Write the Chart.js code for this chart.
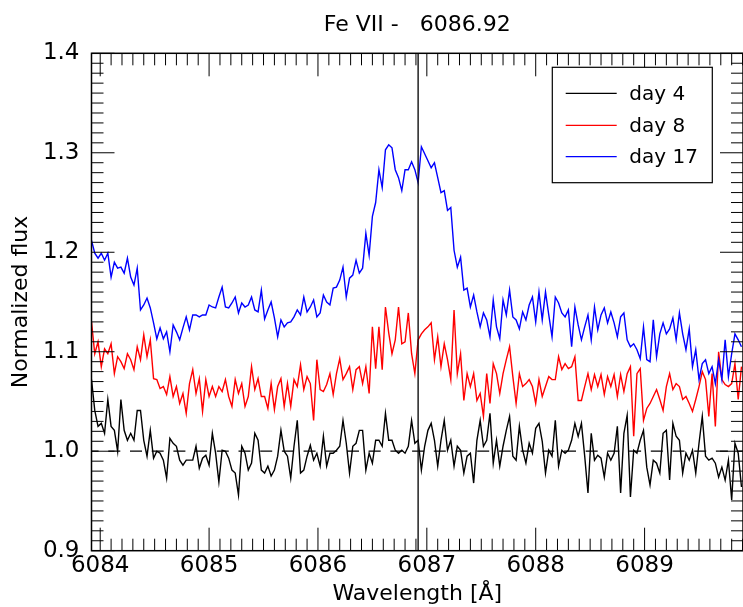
<!DOCTYPE html>
<html>
<head>
<meta charset="utf-8">
<script src="https://cdn.jsdelivr.net/npm/chart.js@4"></script>
<style>
  html, body { margin: 0; padding: 0; background: #fff; overflow: hidden; }
  canvas { display: block; }
</style>
</head>
<body>
<canvas id="chart" width="743" height="607"></canvas>
<script>
// wavelength grid (Angstrom)
const wavelength = [
  6083.92, 6083.95, 6083.98, 6084.01, 6084.04, 6084.07, 6084.10, 6084.13, 6084.16, 6084.19,
  6084.22, 6084.25, 6084.28, 6084.31, 6084.34, 6084.37, 6084.40, 6084.43, 6084.46, 6084.49,
  6084.52, 6084.55, 6084.58, 6084.61, 6084.64, 6084.67, 6084.70, 6084.73, 6084.76, 6084.79,
  6084.82, 6084.85, 6084.88, 6084.91, 6084.94, 6084.97, 6085.00, 6085.03, 6085.06, 6085.09,
  6085.12, 6085.15, 6085.18, 6085.21, 6085.24, 6085.27, 6085.30, 6085.33, 6085.36, 6085.39,
  6085.42, 6085.45, 6085.48, 6085.51, 6085.54, 6085.57, 6085.60, 6085.63, 6085.66, 6085.69,
  6085.72, 6085.75, 6085.78, 6085.81, 6085.84, 6085.87, 6085.90, 6085.93, 6085.96, 6085.99,
  6086.02, 6086.05, 6086.08, 6086.11, 6086.14, 6086.17, 6086.20, 6086.23, 6086.26, 6086.29,
  6086.32, 6086.35, 6086.38, 6086.41, 6086.44, 6086.47, 6086.50, 6086.53, 6086.56, 6086.59,
  6086.62, 6086.65, 6086.68, 6086.71, 6086.74, 6086.77, 6086.80, 6086.83, 6086.86, 6086.89,
  6086.92, 6086.95, 6086.98, 6087.01, 6087.04, 6087.07, 6087.10, 6087.13, 6087.16, 6087.19,
  6087.22, 6087.25, 6087.28, 6087.31, 6087.34, 6087.37, 6087.40, 6087.43, 6087.46, 6087.49,
  6087.52, 6087.55, 6087.58, 6087.61, 6087.64, 6087.67, 6087.70, 6087.73, 6087.76, 6087.79,
  6087.82, 6087.85, 6087.88, 6087.91, 6087.94, 6087.97, 6088.00, 6088.03, 6088.06, 6088.09,
  6088.12, 6088.15, 6088.18, 6088.21, 6088.24, 6088.27, 6088.30, 6088.33, 6088.36, 6088.39,
  6088.42, 6088.45, 6088.48, 6088.51, 6088.54, 6088.57, 6088.60, 6088.63, 6088.66, 6088.69,
  6088.72, 6088.75, 6088.78, 6088.81, 6088.84, 6088.87, 6088.90, 6088.93, 6088.96, 6088.99,
  6089.02, 6089.05, 6089.08, 6089.11, 6089.14, 6089.17, 6089.20, 6089.23, 6089.26, 6089.29,
  6089.32, 6089.35, 6089.38, 6089.41, 6089.44, 6089.47, 6089.50, 6089.53, 6089.56, 6089.59,
  6089.62, 6089.65, 6089.68, 6089.71, 6089.74, 6089.77, 6089.80, 6089.83, 6089.86, 6089.89
]

const fluxDay4 = [
  1.072, 1.041, 1.025, 1.028, 1.018, 1.052, 1.025, 1.021, 1.000, 1.052,
  1.021, 1.011, 1.018, 1.011, 1.041, 1.041, 1.011, 0.995, 1.021, 0.993,
  1.000, 0.998, 0.991, 0.973, 1.013, 1.008, 1.005, 0.991, 0.986, 0.991,
  0.991, 0.991, 1.005, 0.983, 0.993, 0.996, 0.986, 1.018, 0.998, 0.969,
  1.001, 1.000, 0.993, 0.981, 0.978, 0.956, 1.005, 0.998, 0.981, 0.988,
  1.018, 1.011, 0.981, 0.978, 0.985, 0.975, 0.981, 0.995, 1.021, 1.000,
  0.995, 0.973, 1.005, 1.031, 0.978, 0.981, 0.995, 1.006, 0.991, 0.998,
  0.985, 1.015, 0.985, 0.998, 0.998, 1.001, 1.005, 1.031, 1.008, 0.978,
  1.005, 1.008, 1.021, 1.021, 0.981, 0.998, 0.988, 1.011, 1.011, 1.005,
  1.038, 1.011, 1.011, 1.001, 0.998, 1.001, 0.998, 1.005, 1.031, 1.008,
  1.011, 0.981, 1.005, 1.021, 1.028, 1.011, 0.985, 1.011, 1.031, 1.001,
  1.011, 0.985, 1.005, 1.001, 0.978, 0.995, 0.998, 0.968, 1.011, 1.031,
  1.005, 1.011, 1.038, 0.988, 1.011, 0.985, 1.005, 1.021, 1.035, 0.995,
  0.991, 1.025, 1.001, 0.988, 1.008, 0.998, 1.023, 1.028, 1.010, 0.978,
  1.001, 0.995, 1.031, 0.985, 1.001, 0.998, 1.001, 1.011, 1.028, 1.015,
  1.028, 0.995, 0.958, 1.018, 0.991, 0.996, 0.993, 0.974, 0.998, 0.991,
  0.998, 1.025, 0.958, 1.018, 1.036, 0.954, 1.001, 0.998, 1.011, 1.021,
  0.984, 0.966, 0.991, 0.988, 0.978, 1.018, 1.021, 0.971, 1.028, 1.015,
  1.011, 0.978, 0.998, 0.991, 1.001, 0.978, 1.008, 1.035, 0.995, 0.991,
  0.993, 0.988, 0.974, 0.984, 0.971, 0.991, 0.951, 1.008, 0.998, 0.964
]

const fluxDay8 = [
  1.130, 1.098, 1.110, 1.085, 1.103, 1.098, 1.108, 1.078, 1.095, 1.090,
  1.083, 1.098, 1.092, 1.082, 1.105, 1.092, 1.117, 1.095, 1.112, 1.073,
  1.072, 1.063, 1.065, 1.057, 1.075, 1.055, 1.065, 1.048, 1.058, 1.038,
  1.068, 1.082, 1.058, 1.073, 1.040, 1.072, 1.055, 1.065, 1.055, 1.065,
  1.060, 1.072, 1.055, 1.045, 1.072, 1.058, 1.068, 1.045, 1.055, 1.085,
  1.062, 1.073, 1.055, 1.055, 1.043, 1.068, 1.042, 1.065, 1.073, 1.045,
  1.068, 1.045, 1.072, 1.065, 1.087, 1.062, 1.075, 1.068, 1.031, 1.092,
  1.062, 1.060, 1.067, 1.078, 1.057, 1.078, 1.093, 1.072, 1.078, 1.085,
  1.062, 1.082, 1.085, 1.068, 1.085, 1.058, 1.125, 1.083, 1.125, 1.082,
  1.145, 1.119, 1.098, 1.112, 1.145, 1.108, 1.110, 1.139, 1.098, 1.078,
  1.112, 1.118, 1.122, 1.125, 1.129, 1.092, 1.115, 1.085, 1.108, 1.092,
  1.072, 1.142, 1.078, 1.098, 1.051, 1.078, 1.065, 1.078, 1.051, 1.058,
  1.035, 1.078, 1.048, 1.088, 1.078, 1.058, 1.078, 1.092, 1.105, 1.075,
  1.048, 1.078, 1.065, 1.068, 1.072, 1.065, 1.048, 1.072, 1.055, 1.065,
  1.075, 1.072, 1.072, 1.095, 1.082, 1.088, 1.083, 1.085, 1.095, 1.051,
  1.051, 1.065, 1.078, 1.062, 1.077, 1.065, 1.077, 1.057, 1.075, 1.065,
  1.077, 1.055, 1.077, 1.060, 1.078, 1.085, 1.015, 1.078, 1.083, 1.031,
  1.043, 1.048, 1.055, 1.062, 1.052, 1.041, 1.065, 1.078, 1.062, 1.068,
  1.065, 1.052, 1.055, 1.048, 1.040, 1.052, 1.065, 1.080, 1.072, 1.035,
  1.078, 1.025, 1.100, 1.072, 1.067, 1.065, 1.068, 1.088, 1.052, 1.085
]

const fluxDay17 = [
  1.212, 1.199, 1.194, 1.199, 1.192, 1.199, 1.175, 1.190, 1.184, 1.185,
  1.179, 1.194, 1.175, 1.167, 1.184, 1.142, 1.147, 1.154, 1.144, 1.129,
  1.113, 1.124, 1.113, 1.120, 1.100, 1.127, 1.120, 1.112, 1.124, 1.135,
  1.122, 1.137, 1.137, 1.135, 1.137, 1.137, 1.147, 1.145, 1.144, 1.155,
  1.165, 1.145, 1.144, 1.149, 1.155, 1.139, 1.149, 1.145, 1.147, 1.155,
  1.142, 1.140, 1.162, 1.133, 1.142, 1.150, 1.134, 1.115, 1.132, 1.125,
  1.129, 1.130, 1.135, 1.142, 1.137, 1.155, 1.140, 1.145, 1.152, 1.135,
  1.139, 1.157, 1.150, 1.147, 1.164, 1.165, 1.172, 1.185, 1.155, 1.174,
  1.177, 1.192, 1.179, 1.184, 1.219, 1.197, 1.236, 1.250, 1.283, 1.265,
  1.303, 1.308, 1.305, 1.283, 1.275, 1.262, 1.283, 1.283, 1.291, 1.283,
  1.270, 1.306, 1.299, 1.292, 1.285, 1.290, 1.275, 1.260, 1.262, 1.242,
  1.245, 1.202, 1.185, 1.195, 1.162, 1.164, 1.145, 1.157, 1.140, 1.125,
  1.139, 1.132, 1.115, 1.152, 1.125, 1.113, 1.152, 1.137, 1.162, 1.135,
  1.132, 1.123, 1.140, 1.132, 1.147, 1.155, 1.130, 1.160, 1.132, 1.160,
  1.137, 1.115, 1.155, 1.149, 1.139, 1.135, 1.142, 1.105, 1.145, 1.127,
  1.112, 1.125, 1.137, 1.112, 1.145, 1.122, 1.137, 1.144, 1.129, 1.140,
  1.129, 1.115, 1.135, 1.139, 1.112, 1.105, 1.108, 1.102, 1.093, 1.125,
  1.092, 1.090, 1.132, 1.095, 1.118, 1.129, 1.118, 1.123, 1.134, 1.112,
  1.139, 1.118, 1.102, 1.123, 1.085, 1.102, 1.072, 1.088, 1.092, 1.078,
  1.085, 1.068, 1.092, 1.072, 1.112, 1.075, 1.098, 1.118, 1.112, 1.105
]

const seriesLabels = ['day 4', 'day 8', 'day 17']
const seriesColors = ['#000000', '#ff0000', '#0000ff']
const xTicks = [6084, 6085, 6086, 6087, 6088, 6089]
const yTicks = [0.9, 1.0, 1.1, 1.2, 1.3, 1.4]
const lineCenter = 6086.92
const continuum = 1.0
const titleText = 'Fe VII -   6086.92'

const FONT = 'DejaVu Sans'

function toPoints(flux) {
    return wavelength.map((w, i) => ({ x: w, y: flux[i] }))
}

// frame, inward ticks on all four sides, reference lines, legend, title
const idlFrame = {
    id: 'idlFrame',
    afterDatasetsDraw(chart) {
        const { ctx, chartArea: { left, right, top, bottom }, scales: { x, y } } = chart
        ctx.save()
        ctx.beginPath()
        ctx.rect(left, top, right - left, bottom - top)
        ctx.clip()
        ctx.strokeStyle = '#000'
        // dashed continuum
        ctx.lineWidth = 1.2
        ctx.setLineDash([12, 9.7])
        ctx.lineDashOffset = 4.9
        const yc = y.getPixelForValue(continuum)
        ctx.beginPath()
        ctx.moveTo(left, yc)
        ctx.lineTo(right, yc)
        ctx.stroke()
        ctx.setLineDash([])
        // rest wavelength
        const xl = x.getPixelForValue(lineCenter)
        ctx.strokeStyle = '#111'
        ctx.lineWidth = 1.4
        ctx.beginPath()
        ctx.moveTo(xl, top)
        ctx.lineTo(xl, bottom)
        ctx.stroke()
        ctx.restore()
    },
    afterDraw(chart) {
        const { ctx, chartArea: { left, right, top, bottom }, scales: { x, y } } = chart
        ctx.save()
        ctx.strokeStyle = '#000'
        ctx.lineWidth = 1.5
        ctx.strokeRect(left, top, right - left, bottom - top)

        ctx.lineWidth = 1
        ctx.beginPath()
        for (let i = Math.ceil(x.min * 10); i <= Math.floor(x.max * 10); i++) {
            const px = x.getPixelForValue(i / 10)
            const len = i % 10 === 0 ? 23 : 12
            ctx.moveTo(px, bottom); ctx.lineTo(px, bottom - len)
            ctx.moveTo(px, top); ctx.lineTo(px, top + len)
        }
        for (let i = Math.round(y.min * 100); i <= Math.round(y.max * 100); i++) {
            const py = y.getPixelForValue(i / 100)
            const len = i % 10 === 0 ? 23 : 12
            ctx.moveTo(left, py); ctx.lineTo(left + len, py)
            ctx.moveTo(right, py); ctx.lineTo(right - len, py)
        }
        ctx.stroke()

        // title
        ctx.fillStyle = '#000'
        ctx.font = `22px "${FONT}"`
        ctx.textAlign = 'center'
        ctx.textBaseline = 'middle'
        ctx.fillText(titleText, (left + right) / 2, 25.3)

        // legend
        const boxW = 160, boxH = 115.4
        const bx = right - 30.7 - boxW, by = top + 14
        ctx.fillStyle = '#fff'
        ctx.fillRect(bx, by, boxW, boxH)
        ctx.strokeStyle = '#000'
        ctx.lineWidth = 1.2
        ctx.strokeRect(bx, by, boxW, boxH)
        const rows = [26, 58, 89.4]
        ctx.font = `20px "${FONT}"`
        ctx.textAlign = 'left'
        seriesLabels.forEach((label, i) => {
            const ly = by + rows[i]
            ctx.strokeStyle = seriesColors[i]
            ctx.lineWidth = 1.3
            ctx.beginPath()
            ctx.moveTo(bx + 13.4, ly)
            ctx.lineTo(bx + 64.4, ly)
            ctx.stroke()
            ctx.fillStyle = '#000'
            ctx.fillText(label, bx + 77, ly + 1.5)
        })
        ctx.restore()
    }
}

const ctx = document.getElementById('chart')
new Chart(ctx, {
    type: 'line',
    data: {
        datasets: [
            { label: seriesLabels[0], data: toPoints(fluxDay4), borderColor: seriesColors[0], order: 3 },
            { label: seriesLabels[1], data: toPoints(fluxDay8), borderColor: seriesColors[1], order: 2 },
            { label: seriesLabels[2], data: toPoints(fluxDay17), borderColor: seriesColors[2], order: 1 }
        ]
    },
    options: {
        responsive: false,
        animation: false,
        devicePixelRatio: 1,
        layout: { padding: { top: 53.3, left: 0, right: 0, bottom: 0 } },
        elements: {
            point: { radius: 0 },
            line: { borderWidth: 1.4, tension: 0, fill: false }
        },
        plugins: {
            legend: { display: false },
            tooltip: { enabled: false },
            title: { display: false }
        },
        scales: {
            x: {
                type: 'linear',
                min: 6083.92,
                max: 6089.904,
                grid: { display: false, drawTicks: false },
                border: { display: false },
                afterBuildTicks: scale => { scale.ticks = xTicks.map(v => ({ value: v })) },
                afterFit: scale => { scale.height = 56.3 },
                ticks: {
                    font: { family: FONT, size: 23 },
                    color: '#000',
                    padding: 2,
                    maxRotation: 0,
                    autoSkip: false,
                    callback: v => String(v)
                },
                title: {
                    display: true,
                    text: 'Wavelength [Å]',
                    font: { family: FONT, size: 22 },
                    color: '#000',
                    padding: { top: 0, bottom: 0 }
                }
            },
            y: {
                type: 'linear',
                min: 0.9,
                max: 1.4,
                grid: { display: false, drawTicks: false },
                border: { display: false },
                afterBuildTicks: scale => { scale.ticks = yTicks.map(v => ({ value: v })) },
                afterFit: scale => { scale.width = 91.5 },
                ticks: {
                    font: { family: FONT, size: 23 },
                    color: '#000',
                    padding: 12,
                    autoSkip: false,
                    callback: v => v.toFixed(1)
                },
                title: {
                    display: true,
                    text: 'Normalized flux',
                    font: { family: FONT, size: 22 },
                    color: '#000',
                    padding: { top: 8, bottom: 0 }
                }
            }
        }
    },
    plugins: [idlFrame]
})
</script>
</body>
</html>
